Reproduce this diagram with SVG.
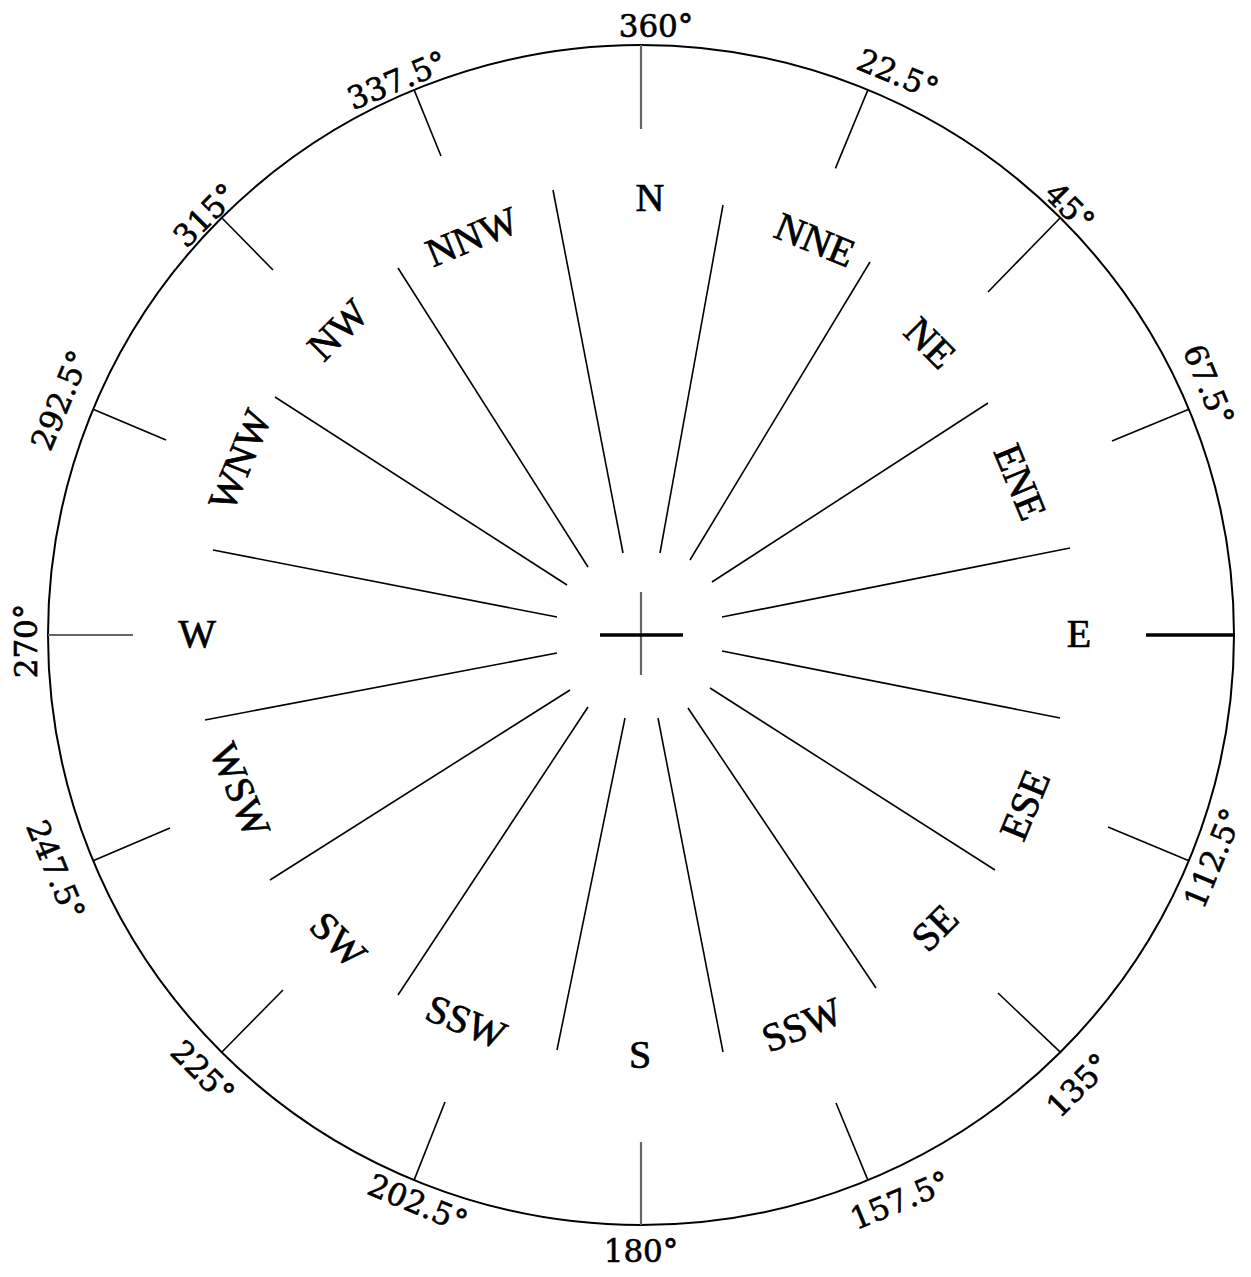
<svg xmlns="http://www.w3.org/2000/svg" width="1251" height="1277" viewBox="0 0 1251 1277">
<style>
.ring{fill:none;stroke:#000;stroke-width:2}
.tick{stroke:#000;stroke-width:1.6;stroke-linecap:butt}
.tickg{stroke:#666;stroke-width:2.2}
.tickb{stroke:#000;stroke-width:3.5}
.ray{stroke:#000;stroke-width:1.6}
.deg{font-family:"DejaVu Serif","Liberation Serif",serif;font-size:31px;text-anchor:middle;fill:#000;stroke:#000;stroke-width:0.6}
.dir{font-family:"Liberation Serif","DejaVu Serif",serif;font-size:40px;text-anchor:middle;fill:#000;stroke:#000;stroke-width:0.7}
</style>
<rect width="1251" height="1277" fill="#fff"/>
<g id="ring"><ellipse class="ring" cx="641" cy="635" rx="593" ry="590"/></g>
<g id="connectors">
<line class="tickg" x1="641" y1="45" x2="641" y2="129"/>
<line class="tick" x1="867.9" y1="89.9" x2="835.4" y2="168.4"/>
<line class="tick" x1="1060.3" y1="217.8" x2="988" y2="292"/>
<line class="tick" x1="1188.9" y1="409.2" x2="1112" y2="441"/>
<line class="tickb" x1="1234" y1="635" x2="1146" y2="635"/>
<line class="tick" x1="1188.9" y1="860.8" x2="1108" y2="827"/>
<line class="tick" x1="1060.3" y1="1052.2" x2="998" y2="993"/>
<line class="tick" x1="867.9" y1="1180.1" x2="836" y2="1103"/>
<line class="tickg" x1="641" y1="1225" x2="641" y2="1142"/>
<line class="tick" x1="414.1" y1="1180.1" x2="445" y2="1102"/>
<line class="tick" x1="221.7" y1="1052.2" x2="283" y2="990"/>
<line class="tick" x1="93.1" y1="860.8" x2="170" y2="828"/>
<line class="tickg" x1="48" y1="635" x2="133" y2="635"/>
<line class="tick" x1="93.1" y1="409.2" x2="166" y2="440"/>
<line class="tick" x1="221.7" y1="217.8" x2="273" y2="270"/>
<line class="tick" x1="414.1" y1="89.9" x2="441" y2="156"/>
<line class="ray" x1="553" y1="190" x2="623" y2="553"/>
<line class="ray" x1="723" y1="205" x2="660" y2="553"/>
<line class="ray" x1="870" y1="262" x2="690" y2="560"/>
<line class="ray" x1="988" y1="403" x2="712" y2="582"/>
<line class="ray" x1="1070" y1="548" x2="722" y2="617"/>
<line class="ray" x1="1060" y1="718" x2="722" y2="651"/>
<line class="ray" x1="995" y1="870" x2="710" y2="688"/>
<line class="ray" x1="876" y1="988" x2="688" y2="708"/>
<line class="ray" x1="723" y1="1052" x2="658" y2="718"/>
<line class="ray" x1="557" y1="1050" x2="625" y2="718"/>
<line class="ray" x1="398" y1="995" x2="588" y2="707"/>
<line class="ray" x1="270" y1="880" x2="570" y2="690"/>
<line class="ray" x1="205" y1="720" x2="557" y2="653"/>
<line class="ray" x1="213" y1="550" x2="557" y2="617"/>
<line class="ray" x1="275" y1="397" x2="567" y2="585"/>
<line class="ray" x1="398" y1="268" x2="588" y2="567"/>
<line stroke="#666" stroke-width="2.2" x1="641" y1="592" x2="641" y2="675"/>
<line stroke="#000" stroke-width="3.5" x1="600" y1="635" x2="683" y2="635"/>
</g>
<g id="degree-labels">
<text class="deg" transform="translate(656,26)" dy="0.36em">360°</text>
<text class="deg" transform="translate(898,74) rotate(22.5)" dy="0.36em">22.5°</text>
<text class="deg" transform="translate(1070,207) rotate(45)" dy="0.36em">45°</text>
<text class="deg" transform="translate(1209,385) rotate(67.5)" dy="0.36em">67.5°</text>
<text class="deg" transform="translate(1213,858) rotate(-67.5)" dy="0.36em">112.5°</text>
<text class="deg" transform="translate(1078,1085) rotate(-45)" dy="0.36em">135°</text>
<text class="deg" transform="translate(900,1200) rotate(-22.5)" dy="0.36em">157.5°</text>
<text class="deg" transform="translate(641,1251)" dy="0.36em">180°</text>
<text class="deg" transform="translate(418,1203) rotate(22.5)" dy="0.36em">202.5°</text>
<text class="deg" transform="translate(203,1072) rotate(45)" dy="0.36em">225°</text>
<text class="deg" transform="translate(56,870) rotate(67.5)" dy="0.36em">247.5°</text>
<text class="deg" transform="translate(26,641) rotate(-90)" dy="0.36em">270°</text>
<text class="deg" transform="translate(60,400) rotate(-67.5)" dy="0.36em">292.5°</text>
<text class="deg" transform="translate(205,215) rotate(-45)" dy="0.36em">315°</text>
<text class="deg" transform="translate(397,80) rotate(-22.5)" dy="0.36em">337.5°</text>
</g>
<g id="direction-labels">
<text id="lbl-N" class="dir" transform="translate(650,198)" dy="0.33em">N</text>
<text id="lbl-NNE" class="dir" transform="translate(815,240) rotate(22.5)" dy="0.33em">NNE</text>
<text id="lbl-NE" class="dir" transform="translate(930,343) rotate(45)" dy="0.33em">NE</text>
<text id="lbl-ENE" class="dir" transform="translate(1020,482) rotate(67.5)" dy="0.33em">ENE</text>
<text id="lbl-E" class="dir" transform="translate(1079,634)" dy="0.33em">E</text>
<text id="lbl-ESE" class="dir" transform="translate(1025,805) rotate(-67.5)" dy="0.33em">ESE</text>
<text id="lbl-SE" class="dir" transform="translate(935,928) rotate(-45)" dy="0.33em">SE</text>
<text id="lbl-SSE" class="dir" transform="translate(802,1025) rotate(-22.5)" dy="0.33em">SSW</text>
<text id="lbl-S" class="dir" transform="translate(640,1055)" dy="0.33em">S</text>
<text id="lbl-SSW" class="dir" transform="translate(466,1022) rotate(22.5)" dy="0.33em">SSW</text>
<text id="lbl-SW" class="dir" transform="translate(338,940) rotate(45)" dy="0.33em">SW</text>
<text id="lbl-WSW" class="dir" transform="translate(240,790) rotate(67.5)" dy="0.33em">WSW</text>
<text id="lbl-W" class="dir" transform="translate(197,634)" dy="0.33em">W</text>
<text id="lbl-WNW" class="dir" transform="translate(240,460) rotate(-67.5)" dy="0.33em">WNW</text>
<text id="lbl-NW" class="dir" transform="translate(338,330) rotate(-45)" dy="0.33em">NW</text>
<text id="lbl-NNW" class="dir" transform="translate(472,237) rotate(-22.5)" dy="0.33em">NNW</text>
</g>
</svg>
